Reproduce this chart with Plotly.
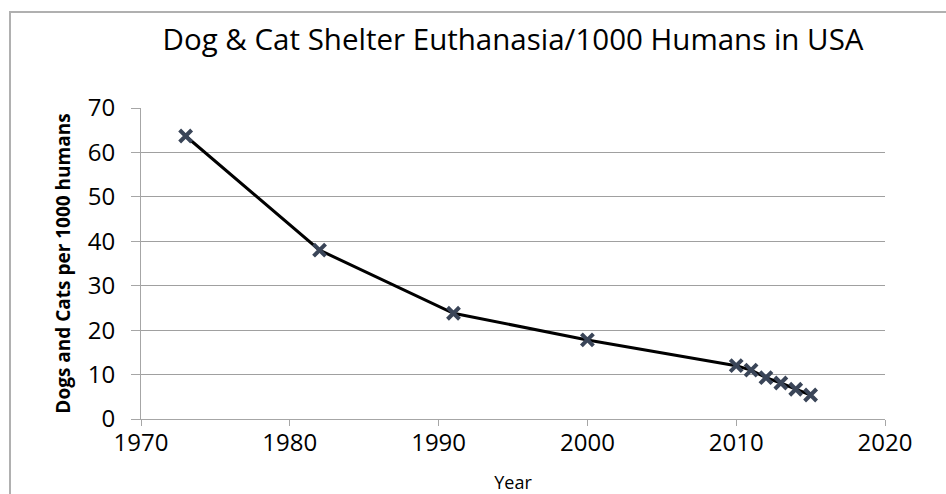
import plotly.graph_objects as go

years = [1973, 1982, 1991, 2000, 2010, 2011, 2012, 2013, 2014, 2015]
values = [63.7, 38.0, 23.8, 17.8, 12.0, 11.0, 9.3, 8.1, 6.7, 5.4]

title_text = "Dog & Cat Shelter Euthanasia/1000 Humans in USA"
x_title = "Year"
y_title = "<b>Dogs and Cats per 1000 humans</b>"

font_family = "Open Sans, Liberation Sans, sans-serif"

fig = go.Figure()
fig.add_trace(go.Scatter(
    x=years, y=values, mode="lines+markers",
    line=dict(color="black", width=3),
    marker=dict(symbol="x-thin", size=12, color="#3a4558",
                line=dict(color="#3a4558", width=4)),
    showlegend=False,
))

fig.update_layout(
    width=946, height=494,
    margin=dict(l=141, r=61, t=108, b=75, autoexpand=False),
    paper_bgcolor="white", plot_bgcolor="white",
    font=dict(family=font_family, color="black"),
    title=dict(text=title_text, x=0.5, xanchor="center", xref="paper",
               y=1 - 40 / 494, yanchor="middle",
               font=dict(size=29.5, color="black", family=font_family)),
    xaxis=dict(
        range=[1970, 2020], tickvals=[1970, 1980, 1990, 2000, 2010, 2020],
        showgrid=False, zeroline=False, automargin=False,
        showline=True, linecolor="#a6a6a6", linewidth=1,
        ticks="outside", ticklen=6, tickcolor="#a6a6a6",
        tickfont=dict(size=24), ticklabelstandoff=-4,
        title=dict(text=x_title, font=dict(size=18), standoff=20),
    ),
    yaxis=dict(
        range=[0, 70], tickvals=[0, 10, 20, 30, 40, 50, 60, 70],
        showgrid=True, gridcolor="#a0a0a0", gridwidth=1, zeroline=False, automargin=False,
        showline=True, linecolor="#a6a6a6", linewidth=1,
        ticks="outside", ticklen=9, tickcolor="#a6a6a6",
        tickfont=dict(size=24), ticklabelstandoff=11,
        title=dict(text=y_title, font=dict(size=19), standoff=12),
    ),
    shapes=[dict(type="rect", xref="paper", yref="paper",
                 x0=(10 - 141) / 744, x1=(960 - 141) / 744,
                 y0=(419 - 520) / 311, y1=(419 - 12) / 311,
                 line=dict(color="#b0b0b0", width=2), layer="below")],
)

fig.write_html("out.html", config={"displayModeBar": False},
               post_script="document.body.style.margin='0';document.body.style.padding='0';")
